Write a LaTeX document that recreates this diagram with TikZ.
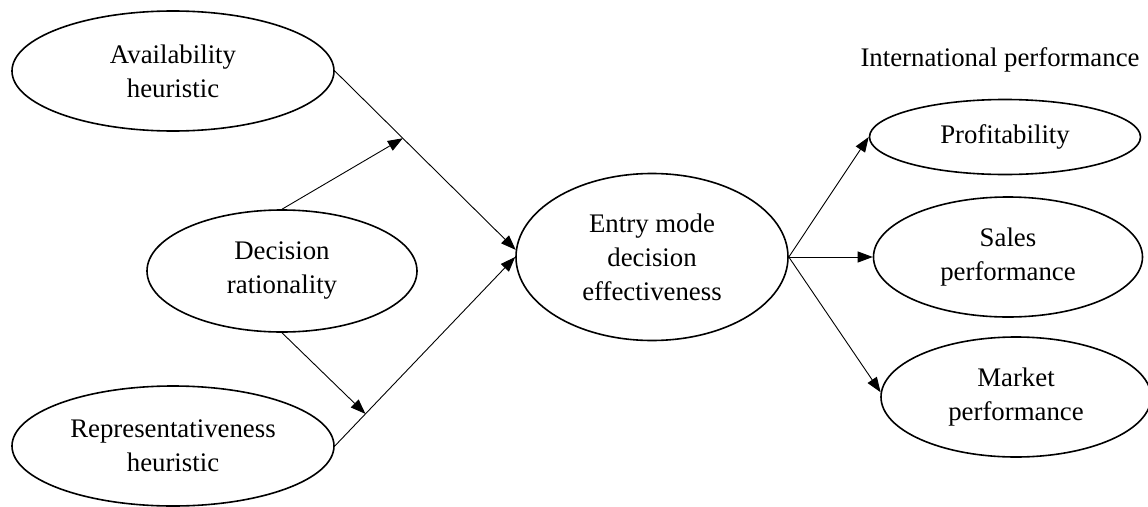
\documentclass[tikz,border=0pt]{standalone}
\usepackage{fontspec}
\setmainfont{Liberation Serif}
\usetikzlibrary{shapes.geometric,arrows.meta,calc}

\tikzset{
  latent/.style={draw, ellipse, line width=1.6pt, inner sep=0pt, align=center},
  path/.style={line width=0.9pt, -{Triangle[length=15pt,width=11pt]}},
}

\begin{document}
\begin{tikzpicture}[x=1pt, y=-1pt, font=\fontsize{26.8}{34}\selectfont]
\useasboundingbox (0,0) rectangle (1148,506);

\begin{scope}
% left side
\node[latent, minimum width=322pt, minimum height=120pt] (avail) at (173,71) {Availability\\heuristic};
\node[latent, minimum width=270pt, minimum height=122pt] (ratio) at (282,271) {Decision\\rationality};
\node[latent, minimum width=322pt, minimum height=120pt] (repr) at (173,446) {Representativeness\\heuristic};

% centre
\node[latent, minimum width=272pt, minimum height=167pt] (entry) at (652,257) {Entry mode\\decision\\effectiveness};

% right side
\node (intl) at (1000,60) {International\ performance};
\node[latent, minimum width=271pt, minimum height=75pt] (profit) at (1005,137) {Profitability};
\node[latent, minimum width=269pt, minimum height=120pt] (sales) at (1008,257) {Sales\\performance};
\node[latent, minimum width=270pt, minimum height=120pt] (market) at (1016,397) {Market\\performance};

\coordinate (m1) at ($(avail.east)!0.376!(entry.177)$);
\coordinate (m2) at ($(repr.east)!0.17!(entry.180)$);

\draw[path] (avail.east) -- (entry.177);
\draw[path] (repr.east) -- (entry.180);
\draw[path] (ratio.north) -- (m1);
\draw[path] (ratio.south) -- (m2);

\draw[path] (entry.east) -- (profit.west);
\draw[path] (entry.east) -- (sales.west);
\draw[path] (entry.east) -- (market.178);
\end{scope}

\end{tikzpicture}
\end{document}
